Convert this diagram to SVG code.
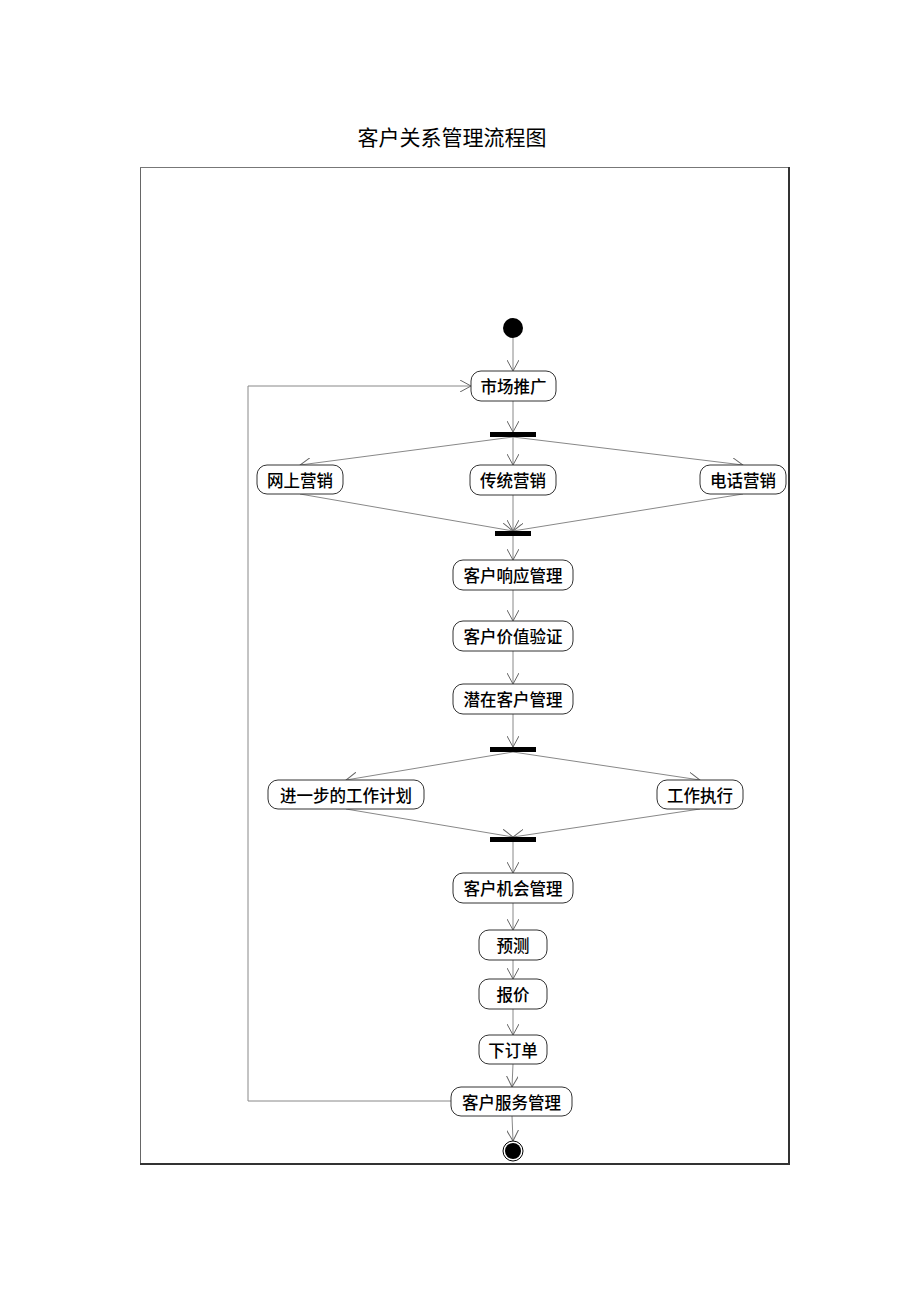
<svg xmlns="http://www.w3.org/2000/svg" width="920" height="1302" viewBox="0 0 920 1302">
<defs>
<marker id="arr" viewBox="0 0 12 12" refX="11" refY="6" markerWidth="12" markerHeight="12" markerUnits="userSpaceOnUse" orient="auto">
<path d="M0,0 L11,6 L0,12" fill="none" stroke="#666" stroke-width="1"/>
</marker>
<style>
.box{fill:#fff;stroke:#333;stroke-width:1}
.t{font-family:"Noto Sans CJK SC","Liberation Sans",sans-serif;font-size:16.5px;font-weight:500;fill:#000;text-anchor:middle;dominant-baseline:central}
.c{fill:none;stroke:#888;stroke-width:1;marker-end:url(#arr)}
.bar{fill:#000}
</style>
</defs>
<rect width="920" height="1302" fill="#fff"/>
<text x="452" y="136" font-family="'Noto Sans CJK SC','Liberation Sans',sans-serif" font-size="21" text-anchor="middle" dominant-baseline="central">客户关系管理流程图</text>
<g id="frame">
<line x1="140.5" y1="167" x2="140.5" y2="1164" stroke="#666" stroke-width="1"/>
<line x1="140" y1="167.5" x2="789" y2="167.5" stroke="#777" stroke-width="1"/>
<line x1="789" y1="167" x2="789" y2="1165" stroke="#333" stroke-width="2"/>
<line x1="140" y1="1164" x2="790" y2="1164" stroke="#333" stroke-width="2"/>
</g>
<g id="connectors">
<line class="c" x1="513" y1="338" x2="513" y2="371"/>
<line class="c" x1="513" y1="401" x2="513" y2="432"/>
<line class="c" x1="513" y1="437" x2="300" y2="465"/>
<line class="c" x1="513" y1="437" x2="513" y2="465"/>
<line class="c" x1="513" y1="437" x2="743" y2="465"/>
<line class="c" x1="300" y1="494" x2="513" y2="531"/>
<line class="c" x1="513" y1="495" x2="513" y2="531"/>
<line class="c" x1="743" y1="494" x2="513" y2="531"/>
<line class="c" x1="513" y1="536" x2="513" y2="560"/>
<line class="c" x1="513" y1="590" x2="513" y2="621"/>
<line class="c" x1="513" y1="651" x2="513" y2="684"/>
<line class="c" x1="513" y1="714" x2="513" y2="747"/>
<line class="c" x1="513" y1="752" x2="346" y2="780"/>
<line class="c" x1="513" y1="752" x2="700" y2="780"/>
<line class="c" x1="346" y1="809" x2="513" y2="837"/>
<line class="c" x1="700" y1="809" x2="513" y2="837"/>
<line class="c" x1="513" y1="842" x2="513" y2="873"/>
<line class="c" x1="513" y1="903" x2="513" y2="930"/>
<line class="c" x1="513" y1="960" x2="513" y2="979"/>
<line class="c" x1="513" y1="1009" x2="513" y2="1035"/>
<line class="c" x1="513" y1="1064" x2="512" y2="1087"/>
<line class="c" x1="512" y1="1116" x2="513" y2="1141"/>
<polyline class="c" points="451,1101 248,1101 248,386 471,386"/>
</g>
<g id="start"><circle cx="513" cy="328" r="10" fill="#000"/></g>
<g id="n1"><rect class="box" x="471" y="371" width="85" height="30" rx="10"/><text class="t" x="513.5" y="386">市场推广</text></g>
<g id="fork1"><rect class="bar" x="490" y="432" width="46" height="5"/></g>
<g id="n2"><rect class="box" x="257" y="465" width="86" height="29" rx="10"/><text class="t" x="300" y="479.5">网上营销</text></g>
<g id="n3"><rect class="box" x="470" y="465" width="86" height="30" rx="10"/><text class="t" x="513" y="480">传统营销</text></g>
<g id="n4"><rect class="box" x="700" y="465" width="86" height="29" rx="10"/><text class="t" x="743" y="479.5">电话营销</text></g>
<g id="join1"><rect class="bar" x="495" y="531" width="36" height="5"/></g>
<g id="n5"><rect class="box" x="453" y="560" width="120" height="30" rx="10"/><text class="t" x="513" y="575">客户响应管理</text></g>
<g id="n6"><rect class="box" x="453" y="621" width="120" height="30" rx="10"/><text class="t" x="513" y="636">客户价值验证</text></g>
<g id="n7"><rect class="box" x="453" y="684" width="120" height="30" rx="10"/><text class="t" x="513" y="699">潜在客户管理</text></g>
<g id="fork2"><rect class="bar" x="490" y="747" width="46" height="5"/></g>
<g id="n8"><rect class="box" x="268" y="780" width="156" height="29" rx="10"/><text class="t" x="346" y="794.5">进一步的工作计划</text></g>
<g id="n9"><rect class="box" x="657" y="780" width="86" height="29" rx="10"/><text class="t" x="700" y="794.5">工作执行</text></g>
<g id="join2"><rect class="bar" x="490" y="837" width="46" height="5"/></g>
<g id="n10"><rect class="box" x="453" y="873" width="120" height="30" rx="10"/><text class="t" x="513" y="888">客户机会管理</text></g>
<g id="n11"><rect class="box" x="479" y="930" width="68" height="30" rx="10"/><text class="t" x="513" y="945">预测</text></g>
<g id="n12"><rect class="box" x="479" y="979" width="68" height="30" rx="10"/><text class="t" x="513" y="994">报价</text></g>
<g id="n13"><rect class="box" x="479" y="1035" width="68" height="29" rx="10"/><text class="t" x="513" y="1049.5">下订单</text></g>
<g id="n14"><rect class="box" x="451" y="1087" width="121" height="29" rx="10"/><text class="t" x="511.5" y="1101.5">客户服务管理</text></g>
<g id="end"><circle cx="513" cy="1151" r="10" fill="#fff" stroke="#000" stroke-width="1"/><circle cx="513" cy="1151" r="8" fill="#000"/></g>
</svg>
